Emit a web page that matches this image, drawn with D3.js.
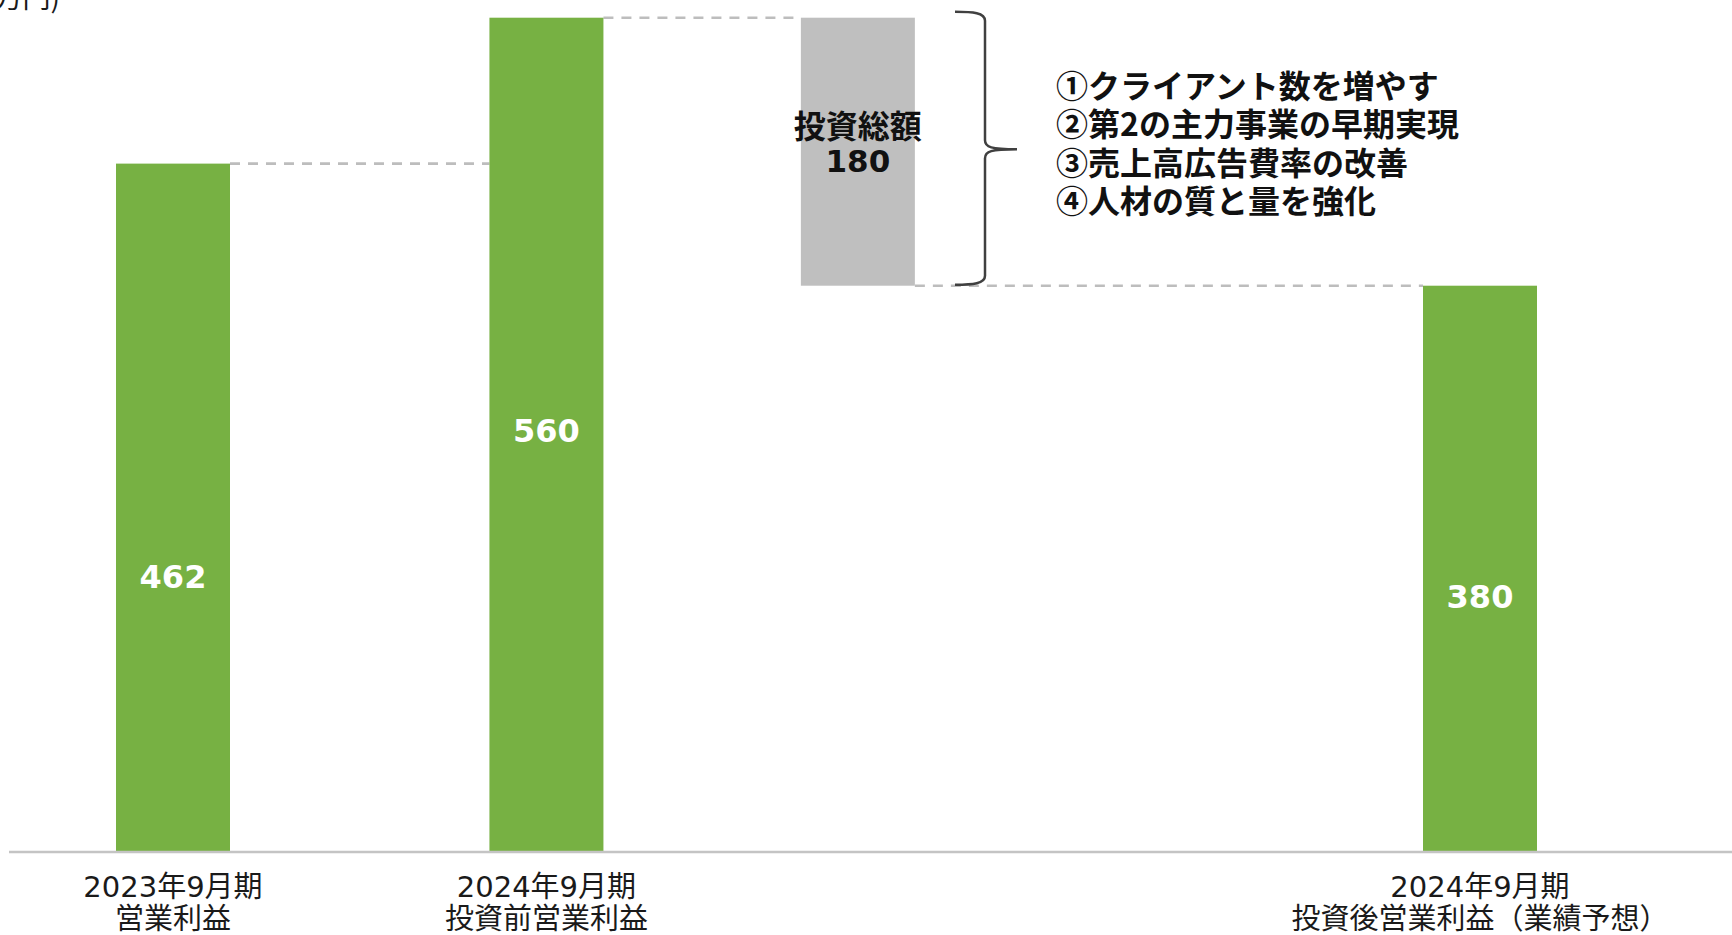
<!DOCTYPE html>
<html><head><meta charset="utf-8">
<script src="https://cdn.jsdelivr.net/npm/d3@7"></script>
<style>
html,body{margin:0;padding:0;background:#fff;overflow:hidden;}
svg{display:block;}
</style></head>
<body>
<svg id="chart" width="1732" height="935"></svg>
<script>
// ---- data ----
const categories = ["2023年9月期 営業利益", "2024年9月期 投資前営業利益", "投資総額", "2024年9月期 投資後営業利益（業績予想）"];
const axisLine1 = ["2023年9月期", "2024年9月期", "", "2024年9月期"];
const axisLine2 = ["営業利益", "投資前営業利益", "", "投資後営業利益（業績予想）"];
const values = [462, 560, -180, 380];
const barKind = ["total", "total", "delta", "total"];
const investmentTitle = "投資総額";
const investmentItems = ["①クライアント数を増やす", "②第2の主力事業の早期実現", "③売上高広告費率の改善", "④人材の質と量を強化"];
const unitLabel = "(百万円)";

// ---- layout (not data) ----
const W = 1732, H = 935;
const slotPos = [0, 1, 1.834, 3.5];
const labelFrac = [0.6, 0.495, 0, 0.55];
const barW = 114;
const green = "#77B143", grey = "#BFBFBF";
const cjk = "'Noto Sans CJK JP', 'Noto Sans', sans-serif";
const mixed = "'DejaVu Sans', 'Noto Sans CJK JP', sans-serif";

const svg = d3.select("#chart");
const x = d3.scaleLinear().domain([0, 3.5]).range([173, 1480]);
const y = d3.scaleLinear().domain([0, 560]).range([851.5, 17.7]);

// compute waterfall extents
let running = 0;
const bars = values.map((v, i) => {
  let lo, hi;
  if (barKind[i] === "total") { lo = 0; hi = v; running = v; }
  else { hi = running; lo = running + v; running = lo; }
  return { i, v, lo, hi, level: running, kind: barKind[i], cx: x(slotPos[i]) };
});

// connectors
const conn = bars.slice(0, -1).map((b, k) => ({ x1: b.cx + barW / 2, x2: bars[k + 1].cx - barW / 2, lv: b.level }));
svg.append("g").selectAll("line").data(conn).join("line")
  .attr("x1", d => d.x1).attr("x2", d => d.x2)
  .attr("y1", d => y(d.lv)).attr("y2", d => y(d.lv))
  .attr("stroke", "#BDBDBD").attr("stroke-width", 2.6).attr("stroke-dasharray", "10,8");

// bars
svg.append("g").selectAll("rect").data(bars).join("rect")
  .attr("x", d => d.cx - barW / 2).attr("width", barW)
  .attr("y", d => y(d.hi)).attr("height", d => y(d.lo) - y(d.hi))
  .attr("fill", d => d.kind === "total" ? green : grey);

// axis line
svg.append("line").attr("x1", 9).attr("x2", W).attr("y1", y(0) + 0.5).attr("y2", y(0) + 0.5)
  .attr("stroke", "#C4C4C4").attr("stroke-width", 2.5);

// value labels for totals
svg.append("g").selectAll("text").data(bars.filter(d => d.kind === "total")).join("text")
  .attr("x", d => d.cx)
  .attr("y", d => y(d.hi) + (y(d.lo) - y(d.hi)) * labelFrac[d.i] + 11.5)
  .attr("text-anchor", "middle")
  .attr("font-family", "'DejaVu Sans', Verdana, sans-serif").attr("font-weight", "bold")
  .attr("font-size", 32).attr("fill", "#fff")
  .text(d => d3.format("d")(d.v));

// investment label on grey bar
const dBar = bars.find(d => d.kind === "delta");
svg.append("text").attr("x", dBar.cx).attr("y", 138)
  .attr("text-anchor", "middle").attr("font-family", cjk).attr("font-weight", "bold")
  .attr("font-size", 32).attr("fill", "#111").text(investmentTitle);
svg.append("text").attr("x", dBar.cx).attr("y", 171.5)
  .attr("text-anchor", "middle").attr("font-family", "'DejaVu Sans', Verdana, sans-serif").attr("font-weight", "bold")
  .attr("font-size", 31).attr("fill", "#111").text(Math.abs(dBar.v));

// brace
const bTop = y(dBar.hi) - 6, bBot = y(dBar.lo) - 1, bMid = (bTop + bBot) / 2 + 1;
const bx0 = 955, bx1 = 985, bx2 = 1017;
const bracePath = `M${bx0},${bTop} C${bx0 + 18},${bTop} ${bx1},${bTop + 1} ${bx1},${bTop + 9}`
  + ` L${bx1},${bMid - 9} C${bx1},${bMid - 2} ${bx1 + 6},${bMid} ${bx2},${bMid}`
  + ` C${bx1 + 6},${bMid} ${bx1},${bMid + 2} ${bx1},${bMid + 9}`
  + ` L${bx1},${bBot - 9} C${bx1},${bBot - 1} ${bx0 + 18},${bBot} ${bx0},${bBot}`;
svg.append("path").attr("d", bracePath).attr("fill", "none")
  .attr("stroke", "#404040").attr("stroke-width", 2.5);

// investment items
svg.append("g").selectAll("text").data(investmentItems).join("text")
  .attr("x", 1056).attr("y", (d, i) => 97.5 + i * 38.5)
  .attr("font-family", cjk).attr("font-weight", "bold").attr("font-size", 32).attr("fill", "#111")
  .text(d => d);

// category labels
const cat = svg.append("g").selectAll("g").data(bars.filter(d => axisLine1[d.i] !== "")).join("g");
cat.append("text").attr("x", d => d.cx).attr("y", 897)
  .attr("text-anchor", "middle").attr("font-family", mixed).attr("font-size", 29).attr("fill", "#1a1a1a")
  .text(d => axisLine1[d.i]);
cat.append("text").attr("x", d => d.cx).attr("y", 929)
  .attr("text-anchor", "middle").attr("font-family", mixed).attr("font-size", 29).attr("fill", "#1a1a1a")
  .text(d => axisLine2[d.i]);

// unit label (mostly clipped at top)
svg.append("text").attr("x", 60).attr("y", 8).attr("text-anchor", "end")
  .attr("font-family", cjk).attr("font-size", 28).attr("fill", "#1a1a1a").text(unitLabel);
</script>
</body></html>
